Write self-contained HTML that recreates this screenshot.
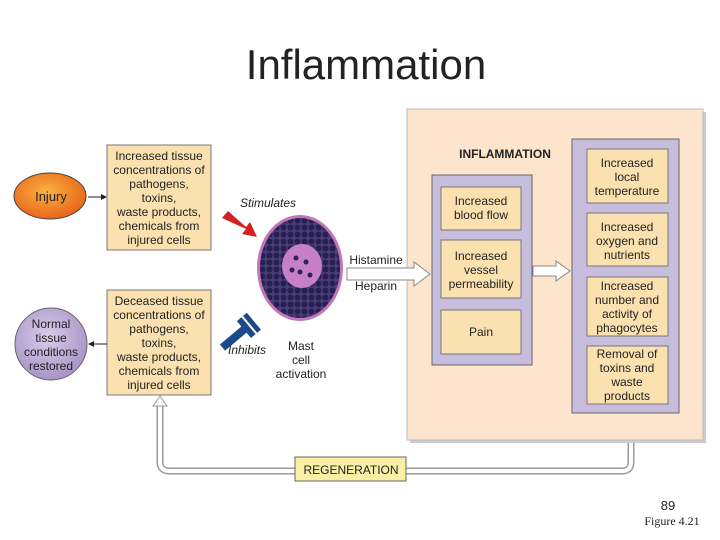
<!DOCTYPE html>
<html><head><meta charset="utf-8"><style>
html,body{margin:0;padding:0;background:#fff;width:720px;height:540px;overflow:hidden}
svg{display:block}
text{font-family:"Liberation Sans",sans-serif;fill:#222}
</style></head><body>
<svg width="720" height="540" viewBox="0 0 720 540">
<defs>
<radialGradient id="inj" cx="45%" cy="40%" r="60%"><stop offset="0" stop-color="#fbb040"/><stop offset="1" stop-color="#e8661a"/></radialGradient>
<radialGradient id="nor" cx="45%" cy="40%" r="60%"><stop offset="0" stop-color="#d9cdea"/><stop offset="1" stop-color="#a795c6"/></radialGradient>
<pattern id="gran" width="7" height="7" patternUnits="userSpaceOnUse"><rect width="7" height="7" fill="#4a3c78"/><circle cx="3.5" cy="3.5" r="3" fill="#252050"/></pattern>
</defs>
<text x="366" y="79" font-size="42" text-anchor="middle" fill="#000">Inflammation</text>

<rect x="107" y="145" width="104" height="105" fill="#fbe1b0" stroke="#777"/>
<g font-size="12" text-anchor="middle">
<text x="159" y="160">Increased tissue</text><text x="159" y="174">concentrations of</text><text x="159" y="188">pathogens,</text><text x="159" y="202">toxins,</text><text x="159" y="216">waste products,</text><text x="159" y="230">chemicals from</text><text x="159" y="244">injured cells</text>
</g>
<rect x="107" y="290" width="104" height="105" fill="#fbe1b0" stroke="#777"/>
<g font-size="12" text-anchor="middle">
<text x="159" y="305">Deceased tissue</text><text x="159" y="319">concentrations of</text><text x="159" y="333">pathogens,</text><text x="159" y="347">toxins,</text><text x="159" y="361">waste products,</text><text x="159" y="375">chemicals from</text><text x="159" y="389">injured cells</text>
</g>
<ellipse cx="50" cy="196" rx="36" ry="23" fill="url(#inj)" stroke="#444"/>
<text x="51" y="201" font-size="13" text-anchor="middle">Injury</text>
<line x1="88" y1="197" x2="103" y2="197" stroke="#222"/><polygon points="107,197 101,194 101,200" fill="#222"/>
<circle cx="51" cy="344" r="36" fill="url(#nor)" stroke="#666"/>
<g font-size="12" text-anchor="middle"><text x="51" y="328">Normal</text><text x="51" y="342">tissue</text><text x="51" y="356">conditions</text><text x="51" y="370">restored</text></g>
<line x1="107" y1="344" x2="92" y2="344" stroke="#222"/><polygon points="88,344 94,341 94,347" fill="#222"/>

<polygon points="222,218 228,211 246,227 250,222 257,237 242,234 246,229" fill="#d42020"/>
<text x="240" y="207" font-size="12" font-style="italic">Stimulates</text>
<g transform="translate(247,327) rotate(-40)">
<rect x="-32" y="-4" width="30" height="8" fill="#1a4a8a"/>
<rect x="-4" y="-11" width="6" height="22" fill="#1a4a8a"/>
<rect x="4" y="-11" width="5" height="22" fill="#1a4a8a"/>
</g>
<text x="228" y="354" font-size="12" font-style="italic">Inhibits</text>

<ellipse cx="300" cy="268" rx="43" ry="53" fill="#c276b8"/>
<ellipse cx="300" cy="268" rx="40" ry="50" fill="url(#gran)"/>
<ellipse cx="302" cy="266" rx="20" ry="22" fill="#c780c8"/>
<g fill="#2a2358"><circle cx="296" cy="258" r="2.5"/><circle cx="306" cy="262" r="2.5"/><circle cx="300" cy="272" r="2.5"/><circle cx="310" cy="275" r="2.5"/><circle cx="292" cy="270" r="2.5"/></g>
<g font-size="12" text-anchor="middle"><text x="301" y="350">Mast</text><text x="301" y="364">cell</text><text x="301" y="378">activation</text></g>
<text x="376" y="264" font-size="12" text-anchor="middle">Histamine</text>
<text x="376" y="290" font-size="12" text-anchor="middle">Heparin</text>

<rect x="410" y="112" width="296" height="331" fill="#ccc"/>
<rect x="407" y="109" width="296" height="331" fill="#fde4cc" stroke="#bbb"/>
<polygon points="347,268 414,268 414,262 430,274 414,286 414,280 347,280" fill="#fff" stroke="#888"/>
<text x="505" y="158" font-size="12" font-weight="bold" text-anchor="middle">INFLAMMATION</text>
<rect x="432" y="175" width="100" height="190" fill="#c7bddc" stroke="#666"/>
<rect x="441" y="187" width="80" height="43" fill="#fbe1b0" stroke="#777"/>
<rect x="441" y="240" width="80" height="58" fill="#fbe1b0" stroke="#777"/>
<rect x="441" y="310" width="80" height="44" fill="#fbe1b0" stroke="#777"/>
<g font-size="12" text-anchor="middle">
<text x="481" y="205">Increased</text><text x="481" y="219">blood flow</text>
<text x="481" y="260">Increased</text><text x="481" y="274">vessel</text><text x="481" y="288">permeability</text>
<text x="481" y="336">Pain</text>
</g>
<polygon points="533,266 556,266 556,261 570,271 556,281 556,276 533,276" fill="#fff" stroke="#888"/>
<rect x="572" y="139" width="107" height="274" fill="#c7bddc" stroke="#666"/>
<rect x="587" y="149" width="81" height="54" fill="#fbe1b0" stroke="#777"/>
<rect x="587" y="213" width="81" height="53" fill="#fbe1b0" stroke="#777"/>
<rect x="587" y="277" width="81" height="59" fill="#fbe1b0" stroke="#777"/>
<rect x="587" y="346" width="81" height="58" fill="#fbe1b0" stroke="#777"/>
<g font-size="12" text-anchor="middle">
<text x="627" y="167">Increased</text><text x="627" y="181">local</text><text x="627" y="195">temperature</text>
<text x="627" y="231">Increased</text><text x="627" y="245">oxygen and</text><text x="627" y="259">nutrients</text>
<text x="627" y="290">Increased</text><text x="627" y="304">number and</text><text x="627" y="318">activity of</text><text x="627" y="332">phagocytes</text>
<text x="627" y="358">Removal of</text><text x="627" y="372">toxins and</text><text x="627" y="386">waste</text><text x="627" y="400">products</text>
</g>

<path d="M631,443 V462 Q631,471 622,471 H170 Q160,471 160,462 V402" fill="none" stroke="#999" stroke-width="7"/>
<path d="M631,443 V462 Q631,471 622,471 H170 Q160,471 160,462 V402" fill="none" stroke="#fff" stroke-width="4"/>
<polygon points="160,396 153,406 167,406" fill="#fff" stroke="#999"/>
<rect x="295" y="457" width="111" height="24" fill="#fbefa6" stroke="#666"/>
<text x="351" y="474" font-size="12" text-anchor="middle">REGENERATION</text>

<text x="668" y="510" font-size="13" text-anchor="middle" fill="#000">89</text>
<text x="672" y="525" font-size="12" text-anchor="middle" fill="#000" style="font-family:'Liberation Serif',serif">Figure 4.21</text>
</svg>
</body></html>
